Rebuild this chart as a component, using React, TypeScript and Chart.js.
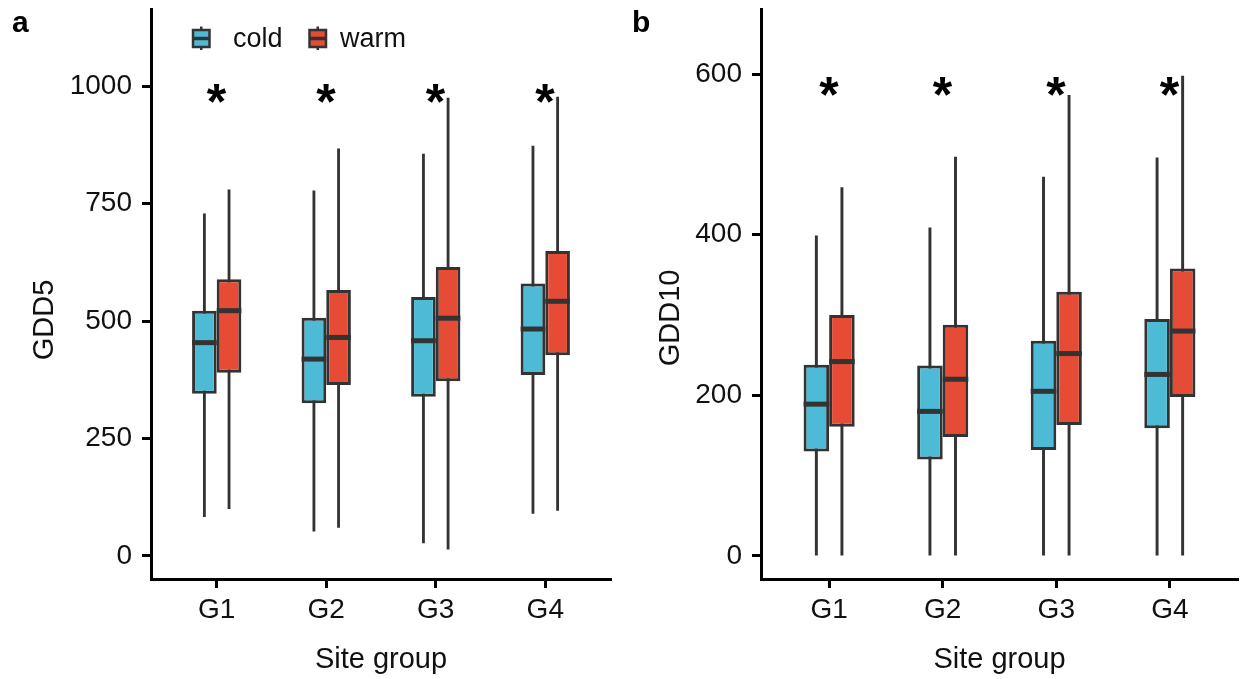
import React, { useEffect, useRef } from 'react';
import { Chart, registerables } from 'chart.js';

Chart.register(...registerables);

// ---------- data ----------
const groups = ['G1', 'G2', 'G3', 'G4'];
const seriesNames = ['cold', 'warm'];
const seriesColors = ['#4DBBD5', '#E64B35'];
const sigMarks = ['*', '*', '*', '*'];

// Panel a: GDD5
const gdd5ColdMin = [83, 52, 27, 90];
const gdd5ColdQ1 = [345, 325, 339, 385];
const gdd5ColdMed = [454, 419, 458, 483];
const gdd5ColdQ3 = [522, 507, 551, 580];
const gdd5ColdMax = [729, 778, 856, 873];
const gdd5WarmMin = [100, 60, 14, 96];
const gdd5WarmQ1 = [390, 364, 372, 427];
const gdd5WarmMed = [522, 465, 506, 542];
const gdd5WarmQ3 = [589, 566, 615, 649];
const gdd5WarmMax = [780, 867, 975, 977];
const gdd5Ticks = [0, 250, 500, 750, 1000];
const gdd5StarY = [985, 985, 985, 985];

// Panel b: GDD10
const gdd10ColdMin = [0, 0, 0, 0];
const gdd10ColdQ1 = [130, 120, 132, 159];
const gdd10ColdMed = [189, 180, 205, 226];
const gdd10ColdQ3 = [238, 237, 268, 295];
const gdd10ColdMax = [399, 409, 472, 496];
const gdd10WarmMin = [0, 0, 0, 0];
const gdd10WarmQ1 = [161, 148, 163, 198];
const gdd10WarmMed = [242, 220, 252, 280];
const gdd10WarmQ3 = [300, 288, 329, 358];
const gdd10WarmMax = [459, 497, 574, 598];
const gdd10Ticks = [0, 200, 400, 600];
const gdd10StarY = [585, 585, 585, 585];

// ---------- styling ----------
const FONT = '"Liberation Sans", Arial, Helvetica, sans-serif';
const INK = '#333333';
const H = 679;

type Box = { min: number[]; q1: number[]; med: number[]; q3: number[]; max: number[] };
type Panel = {
  tag: string;
  yTitle: string;
  xTitle: string;
  yMin: number;
  yMax: number;
  yTicks: number[];
  starY: number[];
  boxes: Box[];
  width: number;
  yAxisWidth: number;
  padRight: number;
  legend: boolean;
  yTitleX: number;
  yTitleY: number;
};

const panelA: Panel = {
  tag: 'a',
  yTitle: 'GDD5',
  xTitle: 'Site group',
  yMin: -49,
  yMax: 1164,
  yTicks: gdd5Ticks,
  starY: gdd5StarY,
  boxes: [
    { min: gdd5ColdMin, q1: gdd5ColdQ1, med: gdd5ColdMed, q3: gdd5ColdQ3, max: gdd5ColdMax },
    { min: gdd5WarmMin, q1: gdd5WarmQ1, med: gdd5WarmMed, q3: gdd5WarmQ3, max: gdd5WarmMax },
  ],
  width: 620,
  yAxisWidth: 151,
  padRight: 9,
  legend: true,
  yTitleX: 43,
  yTitleY: 320,
};

const panelB: Panel = {
  tag: 'b',
  yTitle: 'GDD10',
  xTitle: 'Site group',
  yMin: -28.7,
  yMax: 681,
  yTicks: gdd10Ticks,
  starY: gdd10StarY,
  boxes: [
    { min: gdd10ColdMin, q1: gdd10ColdQ1, med: gdd10ColdMed, q3: gdd10ColdQ3, max: gdd10ColdMax },
    { min: gdd10WarmMin, q1: gdd10WarmQ1, med: gdd10WarmMed, q3: gdd10WarmQ3, max: gdd10WarmMax },
  ],
  width: 621,
  yAxisWidth: 141,
  padRight: 3,
  legend: false,
  yTitleX: 49,
  yTitleY: 318,
};

function fillCentered(ctx: CanvasRenderingContext2D, text: string, cx: number, cy: number) {
  ctx.textAlign = 'left';
  ctx.textBaseline = 'alphabetic';
  const m = ctx.measureText(text);
  const x = cx - (m.actualBoundingBoxRight - m.actualBoundingBoxLeft) / 2;
  const y = cy + (m.actualBoundingBoxAscent - m.actualBoundingBoxDescent) / 2;
  ctx.fillText(text, x, y);
}

function makeConfig(p: Panel): any {
  const boxSets = p.boxes.map((b, k) => ({
    type: 'bar',
    label: seriesNames[k],
    stack: seriesNames[k],
    order: 0,
    data: groups.map((_, i) => ({ x: i + 1, y: [b.q1[i], b.q3[i]] })),
    backgroundColor: seriesColors[k],
    borderColor: INK,
    borderWidth: 3,
    borderSkipped: false,
    categoryPercentage: 0.45,
    barPercentage: 1,
    inflateAmount: 0,
  }));
  const whiskerSets = p.boxes.map((b, k) => ({
    type: 'bar',
    label: seriesNames[k] + ' range',
    stack: seriesNames[k],
    order: 1,
    data: groups.map((_, i) => ({ x: i + 1, y: [b.min[i], b.max[i]] })),
    backgroundColor: INK,
    borderWidth: 0,
    categoryPercentage: 0.45,
    barPercentage: 0.115,
    inflateAmount: 0,
  }));

  const overlay = {
    id: 'overlay',
    afterDatasetsDraw(chart: any) {
      const ctx: CanvasRenderingContext2D = chart.ctx;
      const ys = chart.scales.y;
      p.boxes.forEach((b, k) => {
        const meta = chart.getDatasetMeta(k);
        meta.data.forEach((el: any, i: number) => {
          const y = ys.getPixelForValue(b.med[i]);
          ctx.save();
          ctx.strokeStyle = INK;
          ctx.lineWidth = 5;
          ctx.beginPath();
          ctx.moveTo(el.x - el.width / 2, y);
          ctx.lineTo(el.x + el.width / 2, y);
          ctx.stroke();
          ctx.restore();
        });
      });
    },
    afterDraw(chart: any) {
      const ctx: CanvasRenderingContext2D = chart.ctx;
      const xs = chart.scales.x;
      const ys = chart.scales.y;
      const area = chart.chartArea;
      ctx.save();
      ctx.fillStyle = '#000';

      // significance stars
      ctx.font = `bold 100px ${FONT}`;
      const m = ctx.measureText('*');
      const gw = m.actualBoundingBoxLeft + m.actualBoundingBoxRight;
      const size = (100 * 19.5) / gw;
      ctx.font = `bold ${size}px ${FONT}`;
      sigMarks.forEach((s, i) => {
        fillCentered(ctx, s, xs.getPixelForValue(i + 1), ys.getPixelForValue(p.starY[i]));
      });

      // axis titles
      ctx.font = `29px ${FONT}`;
      ctx.fillStyle = '#111';
      ctx.save();
      ctx.translate(p.yTitleX, p.yTitleY);
      ctx.rotate(-Math.PI / 2);
      fillCentered(ctx, p.yTitle, 0, 0);
      ctx.restore();
      ctx.textAlign = 'center';
      ctx.textBaseline = 'alphabetic';
      ctx.fillText(p.xTitle, (area.left + area.right) / 2, 668);

      // panel tag
      ctx.font = `bold 30px ${FONT}`;
      ctx.fillStyle = '#000';
      ctx.textAlign = 'left';
      ctx.fillText(p.tag, 12, 32);

      // legend
      if (p.legend) {
        const keys = [
          { x: 193, tx: 233 },
          { x: 309.5, tx: 340 },
        ];
        keys.forEach((kp, k) => {
          const bw = 16.5;
          const cx = kp.x + bw / 2;
          ctx.strokeStyle = INK;
          ctx.lineWidth = 2.5;
          ctx.beginPath();
          ctx.moveTo(cx, 26.5);
          ctx.lineTo(cx, 50);
          ctx.stroke();
          ctx.fillStyle = seriesColors[k];
          ctx.fillRect(kp.x, 30, bw, 17);
          ctx.lineWidth = 2.5;
          ctx.strokeRect(kp.x, 30, bw, 17);
          ctx.lineWidth = 3.5;
          ctx.beginPath();
          ctx.moveTo(kp.x, 38.5);
          ctx.lineTo(kp.x + bw, 38.5);
          ctx.stroke();
          ctx.fillStyle = '#111';
          ctx.font = `27px ${FONT}`;
          ctx.textAlign = 'left';
          ctx.textBaseline = 'alphabetic';
          ctx.fillText(seriesNames[k], kp.tx, 47);
        });
      }
      ctx.restore();
    },
  };

  const tickFont = { family: FONT, size: 28 };

  return {
    type: 'bar',
    data: { datasets: [...boxSets, ...whiskerSets] },
    plugins: [overlay],
    options: {
      animation: false,
      responsive: false,
      maintainAspectRatio: false,
      events: [],
      layout: { padding: { top: 9, right: p.padRight, bottom: 0, left: 0 } },
      plugins: { legend: { display: false }, tooltip: { enabled: false }, title: { display: false } },
      scales: {
        x: {
          type: 'linear',
          min: 0.4,
          max: 4.6,
          bounds: 'data',
          offset: false,
          grid: {
            display: true,
            drawOnChartArea: false,
            offset: false,
            drawTicks: true,
            tickLength: 9,
            tickWidth: 3,
            tickColor: '#000',
          },
          border: { display: true, color: '#000', width: 3 },
          ticks: {
            font: tickFont,
            color: '#111',
            padding: 5,
            maxRotation: 0,
            autoSkip: false,
            callback: (v: number) => groups[Math.round(v) - 1] ?? '',
          },
          afterBuildTicks: (s: any) => {
            s.ticks = groups.map((_, i) => ({ value: i + 1 }));
          },
          afterFit: (s: any) => {
            s.height = H - 579;
            s.paddingLeft = 0;
            s.paddingRight = 0;
          },
        },
        y: {
          type: 'linear',
          min: p.yMin,
          max: p.yMax,
          bounds: 'data',
          stacked: false,
          grid: {
            display: true,
            drawOnChartArea: false,
            drawTicks: true,
            tickLength: 9,
            tickWidth: 3,
            tickColor: '#000',
          },
          border: { display: true, color: '#000', width: 3 },
          ticks: {
            font: tickFont,
            color: '#111',
            padding: 10,
            autoSkip: false,
            callback: (v: number) => String(v),
          },
          afterBuildTicks: (s: any) => {
            s.ticks = p.yTicks.map((v) => ({ value: v }));
          },
          afterFit: (s: any) => {
            s.width = p.yAxisWidth;
            s.paddingTop = 0;
            s.paddingBottom = 0;
          },
        },
      },
    },
  };
}

function PanelChart({ p }: { p: Panel }) {
  const ref = useRef<HTMLCanvasElement>(null);
  useEffect(() => {
    const chart = new Chart(ref.current as HTMLCanvasElement, makeConfig(p));
    return () => chart.destroy();
  }, [p]);
  return (
    <canvas
      ref={ref}
      width={p.width}
      height={H}
      style={{ display: 'block', width: p.width, height: H }}
    />
  );
}

export default function App() {
  return (
    <div
      style={{
        position: 'absolute',
        left: 0,
        top: 0,
        width: 1241,
        height: H,
        display: 'flex',
        background: '#fff',
      }}
    >
      <PanelChart p={panelA} />
      <PanelChart p={panelB} />
    </div>
  );
}
